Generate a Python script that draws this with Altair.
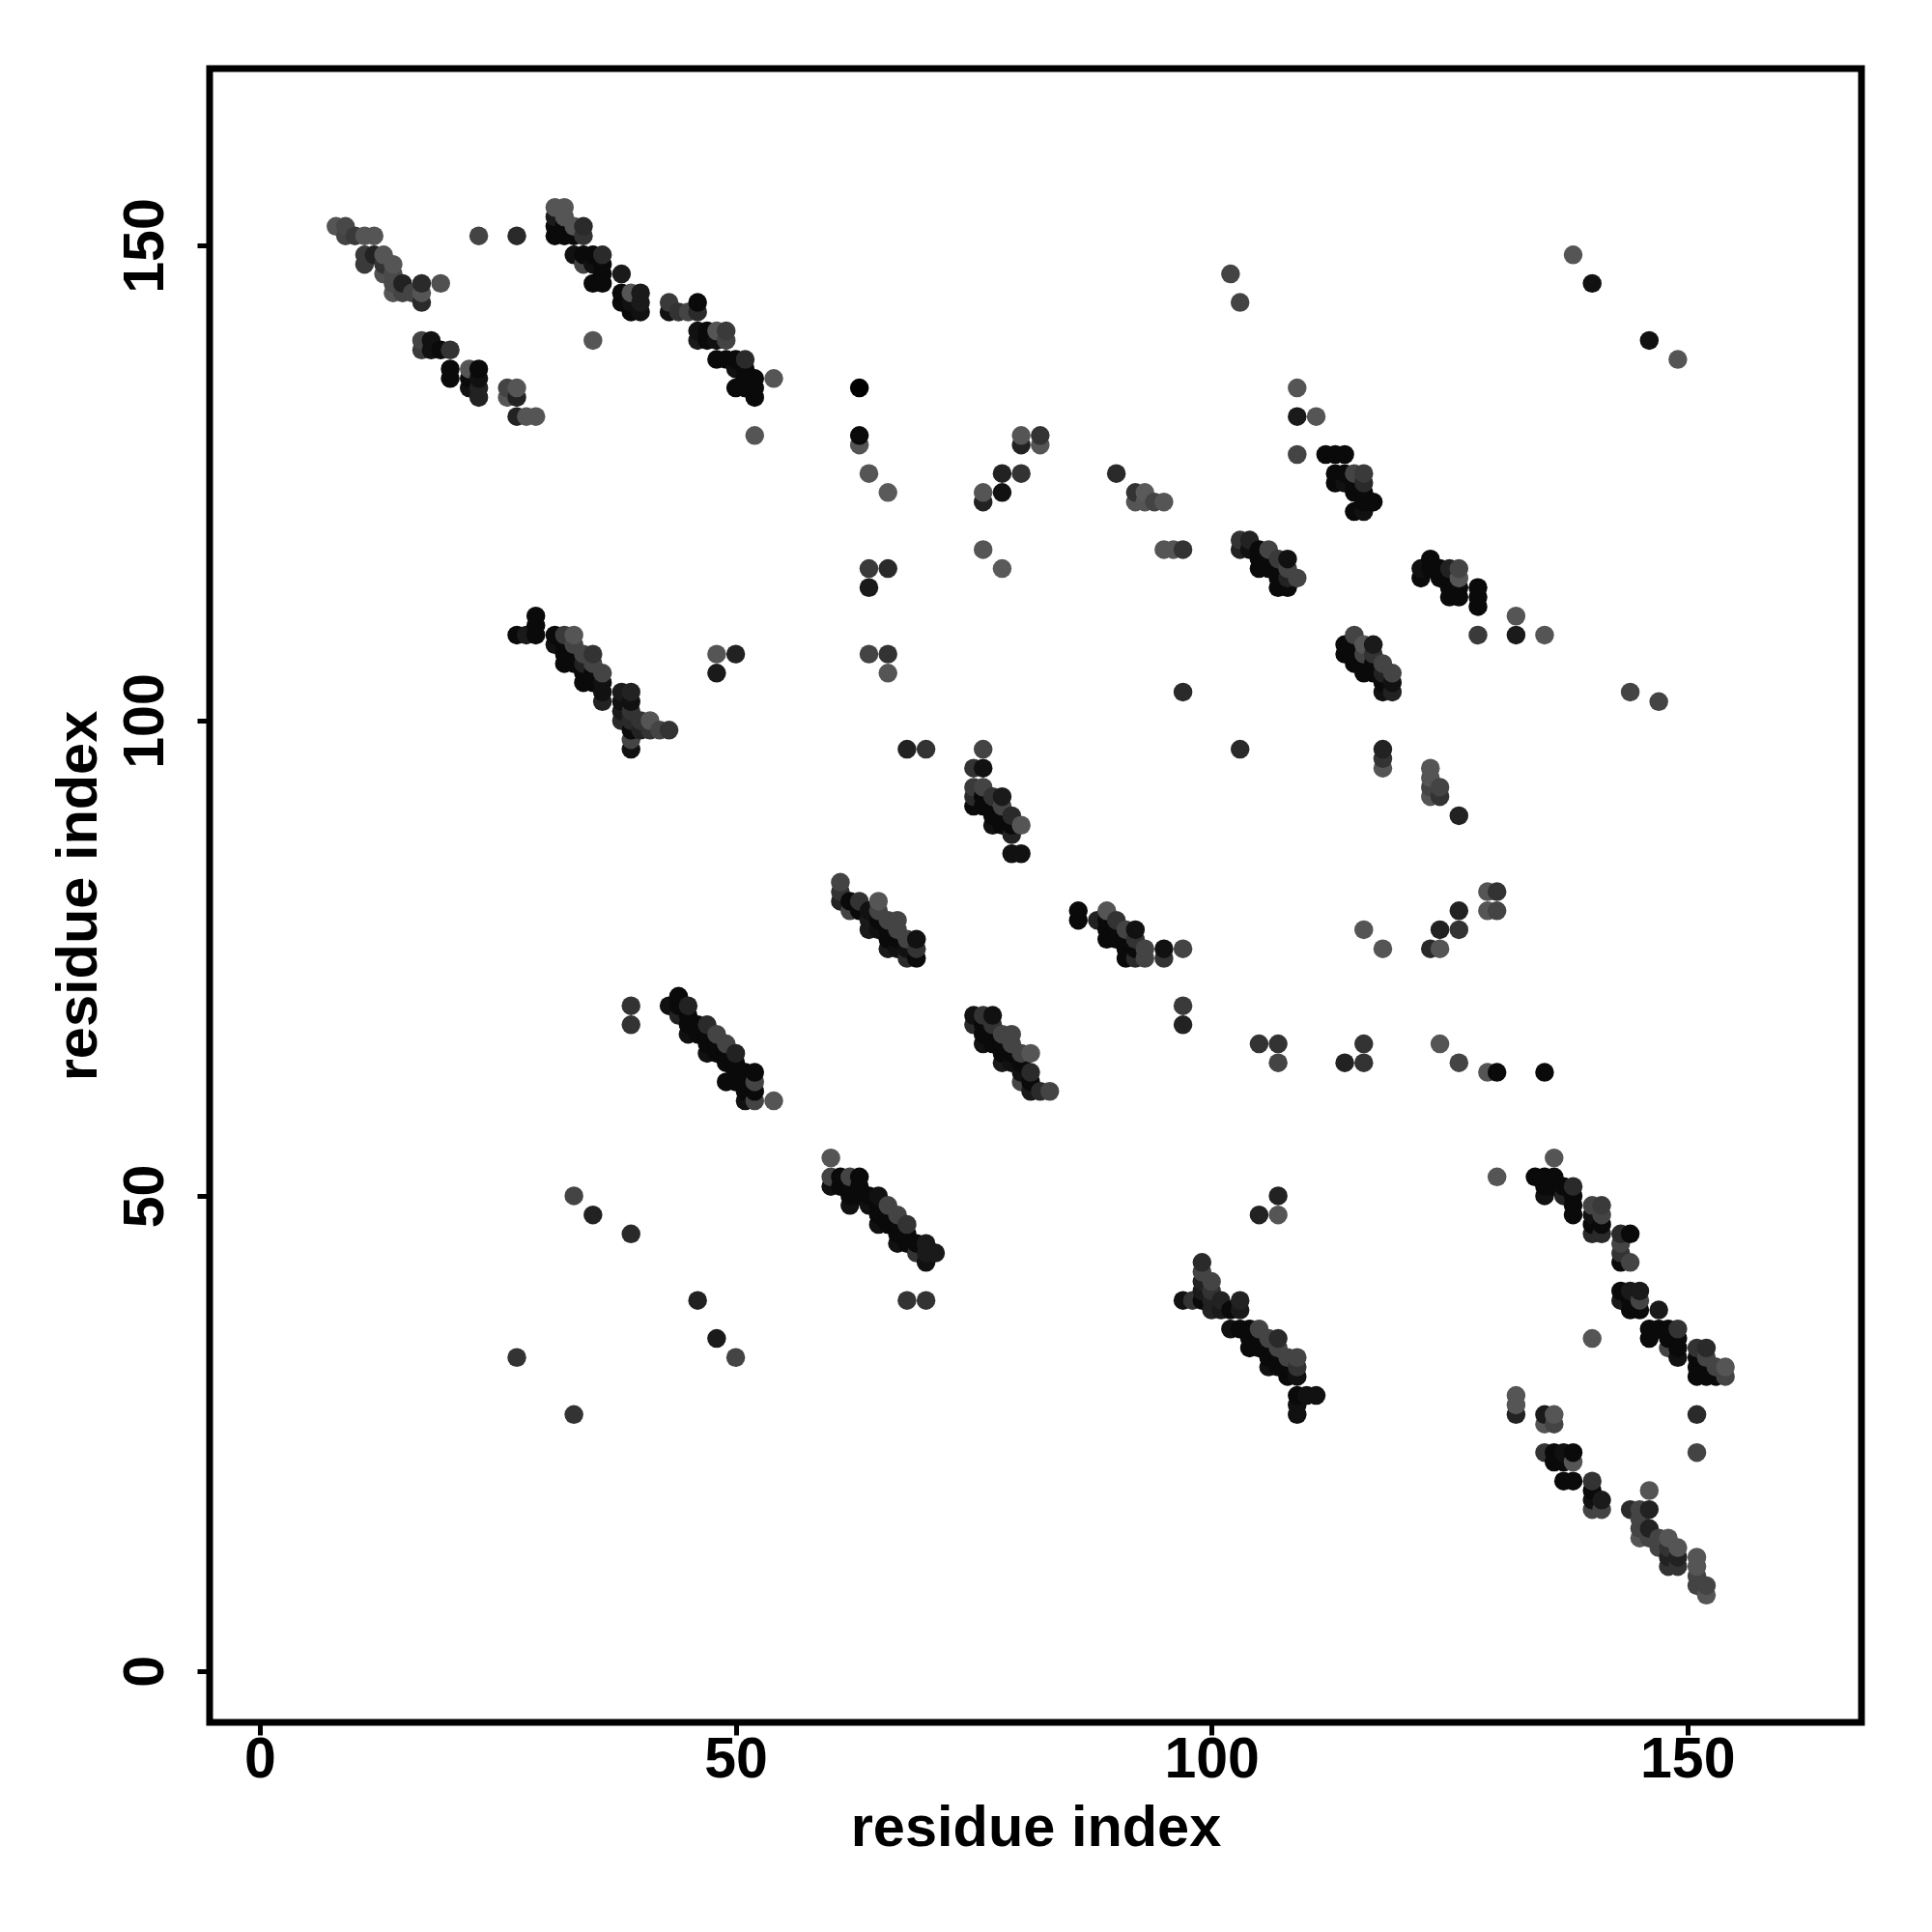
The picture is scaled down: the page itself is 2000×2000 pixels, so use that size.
import altair as alt
import pandas as pd

# each triple: residue x, residue y, grey level (hex string)
top_left = [(8,152,"55"),(9,152,"48"),(9,151,"44"),(10,151,"3a"),(11,151,"55"),(12,151,"55"),
 (11,149,"3a"),(12,149,"22"),(13,149,"55"),(11,148,"3a"),(13,148,"33"),(14,148,"55"),(13,147,"50"),(14,147,"4a"),
 (14,146,"4a"),(15,146,"22"),(17,146,"2a"),(19,146,"50"),(14,145,"55"),(15,145,"44"),(16,145,"44"),(17,145,"55"),(17,144,"2a"),
 (17,140,"44"),(18,140,"11"),(17,139,"3a"),(18,139,"11"),(19,139,"0a"),(20,139,"33"),
 (20,137,"0a"),(22,137,"55"),(23,137,"0a"),(20,136,"0a"),(22,136,"0a"),(23,136,"11"),
 (22,135,"11"),(23,135,"22"),(26,135,"44"),(27,135,"55"),(23,134,"22"),(26,134,"55"),(27,134,"22"),
 (27,132,"22"),(28,132,"55"),(29,132,"55"),(23,151,"44"),(27,151,"2a")]

top_mid = [(31,154,"55"),(32,154,"55"),(31,153,"1a"),(32,153,"55"),(31,152,"0a"),(33,152,"55"),(34,152,"2a"),(32,152,"0a"),
 (31,151,"0a"),(32,151,"0a"),(33,151,"0a"),(34,151,"33"),(33,149,"11"),(34,149,"0a"),(35,149,"0a"),(36,149,"2a"),
 (34,148,"44"),(35,148,"11"),(36,148,"0a"),(36,147,"0a"),(38,147,"1a"),(35,146,"0a"),(36,146,"0a"),
 (38,145,"0a"),(39,145,"55"),(40,145,"1a"),(38,144,"0a"),(39,144,"11"),(40,144,"1a"),(43,144,"3a"),(46,144,"0a"),
 (39,143,"0a"),(40,143,"11"),(43,143,"11"),(44,143,"33"),(45,143,"44"),(46,143,"2a"),
 (46,141,"11"),(47,141,"0a"),(48,141,"55"),(49,141,"3a"),(46,140,"1a"),(47,140,"0a"),(48,140,"11"),(49,140,"44"),
 (48,138,"0a"),(49,138,"0a"),(50,138,"0a"),(51,138,"2a"),(50,137,"11"),(51,137,"0a"),
 (51,136,"0a"),(52,136,"0a"),(54,136,"55"),(50,135,"0a"),(51,135,"0a"),(52,135,"0a"),(52,134,"0a"),
 (35,140,"55"),(52,130,"55")]

band_109 = [(29,111,"0a"),(29,110,"0a"),(27,109,"0a"),(28,109,"1a"),(29,109,"0a"),
 (31,109,"0a"),(32,109,"3a"),(33,109,"55"),(31,108,"11"),(32,108,"0a"),(33,108,"44"),
 (32,107,"0a"),(33,107,"0a"),(34,107,"44"),(35,107,"33"),(32,106,"0a"),(33,106,"0a"),(34,106,"22"),(35,106,"44"),
 (34,105,"0a"),(35,105,"0a"),(36,105,"44"),(34,104,"0a"),(35,104,"0a"),(36,104,"11"),(36,103,"11"),(36,102,"22"),
 (38,103,"1a"),(39,103,"22"),(38,102,"11"),(39,102,"11"),(38,101,"1a"),(39,101,"33"),
 (38,100,"2a"),(39,100,"2a"),(40,100,"33"),(41,100,"55"),(39,99,"0a"),(40,99,"22"),(41,99,"33"),(42,99,"44"),(43,99,"33"),
 (39,98,"44"),(39,97,"11"),(48,107,"55"),(50,107,"22"),(48,105,"1a")]

mid_upper = [(63,135,"00"),(63,130,"0a"),(63,129,"55"),(64,126,"55"),(66,124,"5a"),(64,116,"3a"),(66,116,"2a"),(64,114,"1a"),
 (64,107,"44"),(66,107,"33"),(66,105,"55"),(80,130,"55"),(80,129,"22"),(82,130,"33"),(82,129,"55"),(78,126,"22"),(80,126,"33"),
 (76,124,"55"),(76,123,"22"),(78,124,"11"),(76,118,"55"),(78,116,"5a"),(90,126,"2a"),
 (92,124,"33"),(92,123,"55"),(93,124,"5a"),(93,123,"55"),(94,123,"44"),(95,123,"55"),(95,118,"55"),(96,118,"55"),(97,118,"33")]

right_upper = [(109,135,"55"),(109,132,"1a"),(111,132,"55"),(109,128,"44"),(112,128,"0a"),(113,128,"0a"),(114,128,"0a"),
 (113,126,"0a"),(114,126,"0a"),(115,126,"44"),(116,126,"3a"),(113,125,"0a"),(114,125,"11"),(115,125,"0a"),(116,125,"2a"),
 (115,124,"0a"),(116,124,"0a"),(116,123,"0a"),(117,123,"0a"),(115,122,"0a"),(116,122,"11"),
 (103,119,"33"),(104,119,"22"),(103,118,"22"),(104,118,"11"),(105,118,"0a"),(106,118,"44"),
 (105,117,"0a"),(106,117,"0a"),(107,117,"3a"),(108,117,"11"),(105,116,"0a"),(106,116,"0a"),(107,116,"0a"),(108,116,"44"),
 (107,115,"0a"),(108,115,"22"),(109,115,"44"),(107,114,"0a"),(108,114,"0a"),
 (123,117,"0a"),(122,116,"11"),(123,116,"0a"),(124,116,"0a"),(125,116,"22"),(126,116,"44"),
 (122,115,"0a"),(124,115,"0a"),(125,115,"0a"),(126,115,"55"),(125,114,"0a"),(126,114,"0a"),(125,113,"0a"),(126,113,"0a"),
 (128,114,"0a"),(128,113,"0a"),(128,112,"0a"),(132,111,"55"),(128,109,"3a"),(132,109,"1a"),(135,109,"55"),
 (115,109,"44"),(114,108,"0a"),(116,108,"55"),(117,108,"1a"),(114,107,"0a"),(115,107,"0a"),(116,107,"44"),(117,107,"33"),
 (115,106,"0a"),(116,106,"0a"),(117,106,"0a"),(118,106,"44"),(116,105,"0a"),(117,105,"0a"),(118,105,"22"),(119,105,"44"),
 (118,104,"0a"),(119,104,"11"),(118,103,"11"),(119,103,"22"),
 (138,149,"55"),(140,146,"11"),(146,140,"11"),(149,138,"55"),(102,147,"44"),(103,144,"44"),
 (97,103,"2a"),(103,97,"2a"),(118,97,"22"),(118,96,"33"),(118,95,"55"),
 (123,95,"55"),(123,94,"55"),(123,93,"44"),(123,92,"55"),(124,93,"44"),(124,92,"33"),(126,90,"22"),
 (144,103,"44"),(147,102,"44"),(68,97,"22"),(70,97,"33")]

band_90 = [(76,97,"44"),(75,95,"33"),(76,95,"11"),(75,93,"3a"),(76,93,"44"),(75,92,"2a"),(76,92,"0a"),(77,92,"33"),(78,92,"1a"),
 (75,91,"0a"),(76,91,"0a"),(78,91,"44"),(77,90,"0a"),(78,90,"0a"),(79,90,"2a"),(77,89,"11"),(78,89,"0a"),(79,89,"0a"),(80,89,"55"),
 (79,88,"22"),(79,86,"11"),(80,86,"11")]

band_80 = [(61,83,"44"),(61,82,"33"),(61,81,"22"),(62,81,"0a"),(63,81,"33"),(65,81,"55"),(62,80,"44"),(63,80,"0a"),(64,80,"11"),(65,80,"44"),
 (64,79,"1a"),(65,79,"0a"),(66,79,"44"),(67,79,"44"),(64,78,"1a"),(65,78,"11"),(66,78,"0a"),(67,78,"44"),
 (66,77,"0a"),(67,77,"0a"),(68,77,"44"),(69,77,"11"),(66,76,"1a"),(67,76,"11"),(68,76,"11"),(69,76,"33"),(68,75,"2a"),(69,75,"0a"),
 (86,80,"0a"),(86,79,"0a"),(88,79,"22"),(89,80,"55"),(89,79,"0a"),(90,79,"33"),(89,78,"0a"),(90,78,"0a"),(91,78,"44"),(92,78,"11"),
 (89,77,"0a"),(90,77,"0a"),(91,77,"0a"),(92,77,"33"),(91,76,"0a"),(92,76,"0a"),(93,76,"44"),(95,76,"11"),(97,76,"44"),
 (91,75,"0a"),(92,75,"2a"),(93,75,"44"),(95,75,"33"),(97,70,"3a"),(97,68,"22")]

band_66 = [(75,69,"11"),(76,69,"33"),(77,69,"11"),(75,68,"2a"),(76,68,"0a"),(77,68,"33"),(76,67,"0a"),(77,67,"0a"),(78,67,"44"),(79,67,"44"),
 (76,66,"11"),(77,66,"0a"),(78,66,"0a"),(79,66,"44"),(78,65,"0a"),(79,65,"0a"),(80,65,"44"),(81,65,"55"),
 (78,64,"1a"),(79,64,"11"),(80,64,"0a"),(80,63,"11"),(81,63,"2a"),(80,62,"44"),(81,62,"0a"),(81,61,"1a"),(82,61,"2a"),(83,61,"44"),
 (39,70,"33"),(39,68,"33"),(44,71,"0a"),(43,70,"11"),(44,70,"0a"),(45,70,"22"),(44,69,"22"),(45,69,"0a"),
 (45,68,"0a"),(46,68,"0a"),(47,68,"2a"),(45,67,"11"),(46,67,"0a"),(47,67,"0a"),(48,67,"44"),(47,66,"0a"),(48,66,"0a"),(49,66,"44"),
 (47,65,"11"),(48,65,"0a"),(49,65,"0a"),(50,65,"22"),(49,64,"0a"),(50,64,"0a"),(50,63,"0a"),(51,63,"0a"),(52,63,"0a"),
 (49,62,"0a"),(50,62,"0a"),(51,62,"0a"),(52,62,"44"),(51,61,"0a"),(52,61,"0a"),(51,60,"11"),(52,60,"44"),(54,60,"55")]

band_50 = [(60,54,"55"),(60,52,"44"),(60,51,"11"),(61,52,"0a"),(62,52,"44"),(63,52,"0a"),(61,51,"0a"),(62,51,"0a"),(63,51,"0a"),
 (62,50,"0a"),(63,50,"0a"),(64,50,"0a"),(65,50,"11"),(62,49,"11"),(64,49,"11"),(65,49,"0a"),(66,49,"44"),
 (65,48,"0a"),(66,48,"0a"),(67,48,"44"),(65,47,"11"),(66,47,"0a"),(67,47,"0a"),(68,47,"33"),(67,46,"0a"),(68,46,"0a"),
 (67,45,"11"),(68,45,"0a"),(69,45,"0a"),(70,45,"1a"),(69,44,"33"),(70,44,"1a"),(71,44,"1a"),(70,43,"11")]

scattered = [(33,50,"44"),(35,48,"22"),(39,46,"2a"),(46,39,"22"),(48,35,"1a"),(50,33,"44"),(27,33,"33"),(33,27,"33"),(68,39,"33"),(70,39,"33"),
 (105,48,"22"),(107,50,"22"),(107,48,"55"),(105,66,"33"),(107,66,"33"),(107,64,"44"),(114,64,"22"),(116,66,"33"),(116,64,"33"),
 (124,66,"55"),(126,64,"44"),(129,63,"55"),(130,63,"0a"),(135,63,"0a"),(116,78,"55"),(118,76,"55"),(123,76,"2a"),(124,76,"55"),
 (124,78,"22"),(126,78,"33"),(126,80,"22"),(129,80,"55"),(130,80,"44"),(129,82,"55"),(130,82,"33"),(130,52,"55")]

band_35 = [(99,43,"2a"),(99,42,"44"),(99,41,"22"),(100,41,"44"),(99,40,"1a"),(100,40,"33"),(97,39,"11"),(98,39,"33"),(99,39,"0a"),(100,39,"22"),(101,39,"22"),(103,39,"22"),
 (100,38,"22"),(101,38,"1a"),(102,38,"0a"),(103,38,"1a"),(102,36,"11"),(103,36,"0a"),(104,36,"0a"),(105,36,"44"),
 (104,35,"0a"),(105,35,"0a"),(106,35,"44"),(107,35,"2a"),(104,34,"0a"),(105,34,"0a"),(106,34,"0a"),(107,34,"44"),
 (106,33,"0a"),(107,33,"0a"),(108,33,"44"),(109,33,"44"),(106,32,"11"),(107,32,"0a"),(108,32,"0a"),(109,32,"33"),
 (108,31,"0a"),(109,31,"11"),(109,29,"0a"),(110,29,"11"),(111,29,"11"),(109,28,"11"),(109,27,"11")]

lower_right = [(136,54,"55"),(134,52,"0a"),(135,52,"0a"),(136,52,"0a"),(135,51,"0a"),(136,51,"0a"),(137,51,"0a"),(138,51,"2a"),
 (135,50,"11"),(137,50,"22"),(138,50,"0a"),(138,49,"0a"),(138,48,"0a"),(140,49,"44"),(141,49,"3a"),(140,48,"11"),(141,48,"44"),
 (140,47,"0a"),(141,47,"0a"),(140,46,"2a"),(141,46,"2a"),(143,46,"2a"),(144,46,"0a"),(143,45,"44"),(143,44,"33"),(143,43,"0a"),(144,43,"44"),
 (143,40,"0a"),(144,40,"1a"),(145,40,"1a"),(143,39,"1a"),(144,39,"0a"),(145,39,"44"),(144,38,"0a"),(145,38,"0a"),(147,38,"1a"),
 (146,36,"0a"),(147,36,"0a"),(148,36,"0a"),(149,36,"33"),(146,35,"0a"),(148,35,"0a"),(149,35,"0a"),(148,34,"44"),(149,34,"0a"),(149,33,"11"),
 (140,35,"55"),(151,34,"33"),(152,34,"2a"),(151,33,"0a"),(152,33,"44"),(151,32,"0a"),(152,32,"0a"),(153,32,"44"),(154,32,"55"),
 (151,31,"0a"),(152,31,"0a"),(153,31,"0a"),(154,31,"44"),
 (132,29,"55"),(132,28,"55"),(132,27,"22"),(135,27,"1a"),(136,27,"55"),(135,26,"55"),(136,26,"44"),
 (135,23,"33"),(136,23,"0a"),(137,23,"11"),(138,23,"0a"),(136,22,"0a"),(137,22,"0a"),(138,22,"55"),
 (137,20,"0a"),(138,20,"0a"),(140,20,"33"),(140,19,"0a"),(140,18,"11"),(141,18,"1a"),(140,17,"44"),(141,17,"44"),
 (144,17,"2a"),(145,17,"44"),(146,17,"22"),(146,19,"55"),(145,16,"44"),(145,15,"44"),(146,15,"22"),
 (145,14,"55"),(146,14,"44"),(147,14,"44"),(148,14,"55"),(147,13,"44"),(148,13,"33"),(149,13,"55"),
 (148,12,"22"),(149,12,"22"),(148,11,"33"),(149,11,"33"),(151,12,"55"),(151,11,"55"),(151,10,"44"),
 (151,9,"44"),(152,9,"44"),(152,8,"55"),(151,27,"2a"),(151,23,"44")]

points = sorted(top_left + top_mid + band_109 + mid_upper + right_upper + band_90 + band_80 + band_66 + band_50 + scattered + band_35 + lower_right,
                key=lambda p: (p[0], p[1]))
df = pd.DataFrame({"x": [p[0] for p in points], "y": [p[1] for p in points],
                   "c": ["#" + p[2] * 3 for p in points]})

FONT = "Liberation Sans"
axis_common = dict(grid=False, domain=False, values=[0, 50, 100, 150], tickColor="black", tickWidth=5, tickSize=13,
                   labelFont=FONT, labelFontSize=59, labelFontWeight="bold", labelColor="black",
                   titleFont=FONT, titleFontSize=59.5, titleFontWeight="bold", titleColor="black")

chart = (
    alt.Chart(df)
    .mark_circle(size=380, opacity=1)
    .encode(
        x=alt.X("x:Q", scale=alt.Scale(domain=[-5.28, 168.3], nice=False, zero=False),
                axis=alt.Axis(title="residue index", titlePadding=12, labelPadding=-4, **axis_common)),
        y=alt.Y("y:Q", scale=alt.Scale(domain=[-5.39, 168.6], nice=False, zero=False),
                axis=alt.Axis(title="residue index", labelAngle=270, labelAlign="center", labelBaseline="bottom",
                              titlePadding=10, labelPadding=24, **axis_common)),
        color=alt.Color("c:N", scale=None),
    )
    .properties(width=1710, height=1712, autosize="none",
                padding={"left": 209, "top": 63, "right": 60, "bottom": 200})
    .configure_view(stroke="black", strokeWidth=7)
)

chart.save("out.html", embed_options={"renderer": "svg", "actions": False})
